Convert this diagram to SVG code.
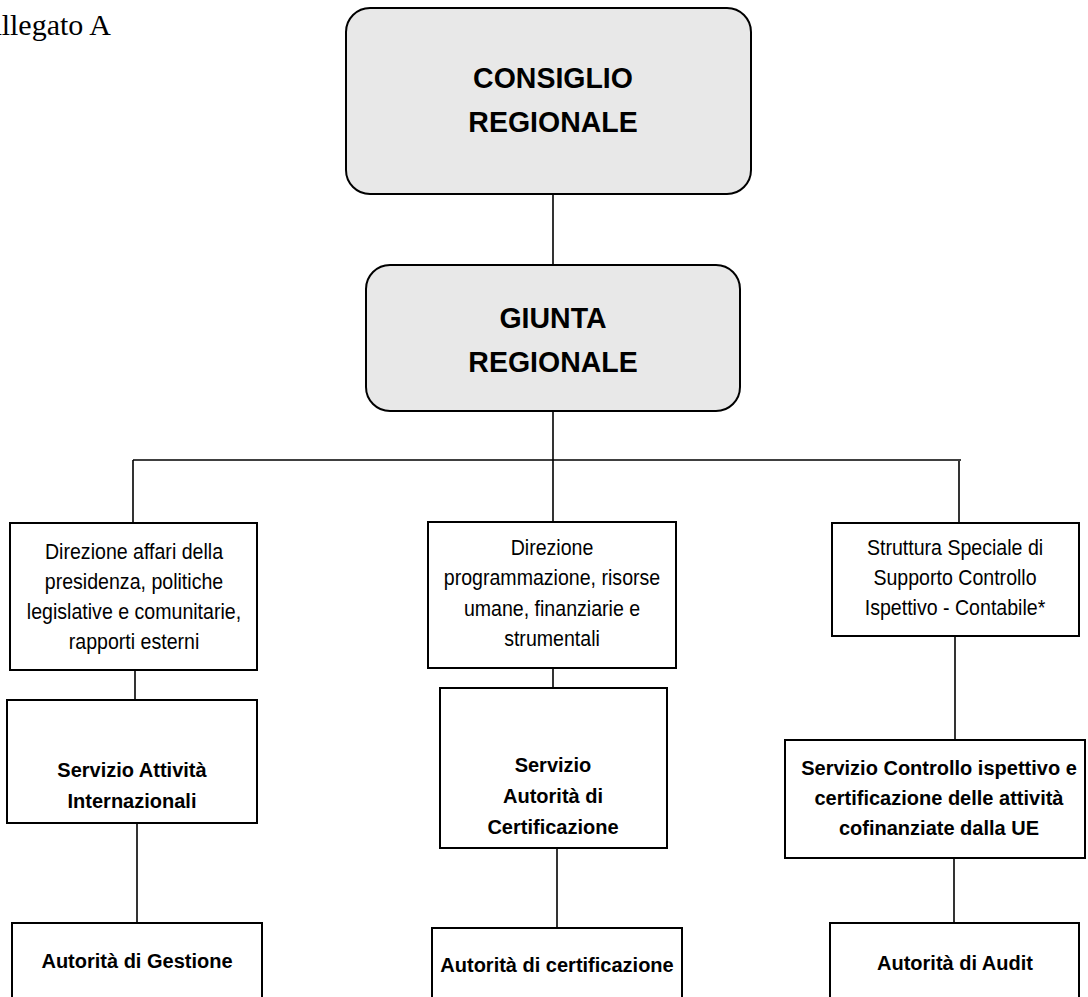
<svg xmlns="http://www.w3.org/2000/svg" width="1088" height="997" viewBox="0 0 1088 997">
<style>
.box{fill:#ffffff;stroke:#000;stroke-width:2}
.rbox{fill:#e8e8e8;stroke:#000;stroke-width:2}
.t{font-family:"Liberation Sans",Arial,sans-serif;font-size:22px;fill:#000;text-anchor:middle}
.b{font-family:"Liberation Sans",Arial,sans-serif;font-size:20px;font-weight:bold;fill:#000;text-anchor:middle}
.big{font-family:"Liberation Sans",Arial,sans-serif;font-size:30px;font-weight:bold;fill:#000;text-anchor:middle}
.c{stroke:#000;stroke-width:1.6;fill:none}
</style>
<rect width="1088" height="997" fill="#ffffff"/>
<text x="-20" y="35" style="font-family:'Liberation Serif','Times New Roman',serif;font-size:30px;fill:#000">Allegato A</text>
<g id="connectors">
<line class="c" x1="553" y1="194" x2="553" y2="265"/>
<line class="c" x1="553" y1="411" x2="553" y2="522"/>
<line class="c" x1="133" y1="460" x2="961" y2="460"/>
<line class="c" x1="133" y1="460" x2="133" y2="523"/>
<line class="c" x1="959" y1="461" x2="959" y2="523"/>
<line class="c" x1="135" y1="670" x2="135" y2="700"/>
<line class="c" x1="137" y1="823" x2="137" y2="923"/>
<line class="c" x1="553" y1="668" x2="553" y2="688"/>
<line class="c" x1="557" y1="848" x2="557" y2="928"/>
<line class="c" x1="955" y1="636" x2="955" y2="740"/>
<line class="c" x1="954" y1="858" x2="954" y2="923"/>
</g>
<g id="consiglio">
<rect class="rbox" x="346" y="8" width="405" height="186" rx="24"/>
<g transform="translate(553,0) scale(0.95,1)">
<text class="big" x="0" y="88">CONSIGLIO</text>
<text class="big" x="0" y="132">REGIONALE</text>
</g>
</g>
<g id="giunta">
<rect class="rbox" x="366" y="265" width="374" height="146" rx="24"/>
<g transform="translate(553,0) scale(0.95,1)">
<text class="big" x="0" y="328">GIUNTA</text>
<text class="big" x="0" y="372">REGIONALE</text>
</g>
</g>
<g id="dir-affari">
<rect class="box" x="10" y="523" width="247" height="147"/>
<g transform="translate(134,0) scale(0.89,1)">
<text class="t" x="0" y="559">Direzione affari della</text>
<text class="t" x="0" y="589">presidenza, politiche</text>
<text class="t" x="0" y="619">legislative e comunitarie,</text>
<text class="t" x="0" y="649">rapporti esterni</text>
</g>
</g>
<g id="dir-programmazione">
<rect class="box" x="428" y="522" width="248" height="146"/>
<g transform="translate(552,0) scale(0.89,1)">
<text class="t" x="0" y="555">Direzione</text>
<text class="t" x="0" y="585">programmazione, risorse</text>
<text class="t" x="0" y="616">umane, finanziarie e</text>
<text class="t" x="0" y="646">strumentali</text>
</g>
</g>
<g id="struttura-speciale">
<rect class="box" x="832" y="523" width="247" height="113"/>
<g transform="translate(955,0) scale(0.89,1)">
<text class="t" x="0" y="555">Struttura Speciale di</text>
<text class="t" x="0" y="585">Supporto Controllo</text>
<text class="t" x="0" y="615">Ispettivo - Contabile*</text>
</g>
</g>
<g id="serv-attivita">
<rect class="box" x="7" y="700" width="250" height="123"/>
<text class="b" x="132" y="777">Servizio Attività</text>
<text class="b" x="132" y="808">Internazionali</text>
</g>
<g id="serv-autorita-cert">
<rect class="box" x="440" y="688" width="227" height="160"/>
<text class="b" x="553" y="772">Servizio</text>
<text class="b" x="553" y="803">Autorità di</text>
<text class="b" x="553" y="834">Certificazione</text>
</g>
<g id="serv-controllo">
<rect class="box" x="785" y="740" width="300" height="118"/>
<text class="b" x="939" y="775">Servizio Controllo ispettivo e</text>
<text class="b" x="939" y="805">certificazione delle attività</text>
<text class="b" x="939" y="835">cofinanziate dalla UE</text>
</g>
<g id="autorita-gestione">
<rect class="box" x="12" y="923" width="250" height="90"/>
<text class="b" x="137" y="968">Autorità di Gestione</text>
</g>
<g id="autorita-certificazione">
<rect class="box" x="432" y="928" width="250" height="90"/>
<text class="b" x="557" y="972">Autorità di certificazione</text>
</g>
<g id="autorita-audit">
<rect class="box" x="830" y="923" width="249" height="90"/>
<text class="b" x="955" y="970">Autorità di Audit</text>
</g>
</svg>
